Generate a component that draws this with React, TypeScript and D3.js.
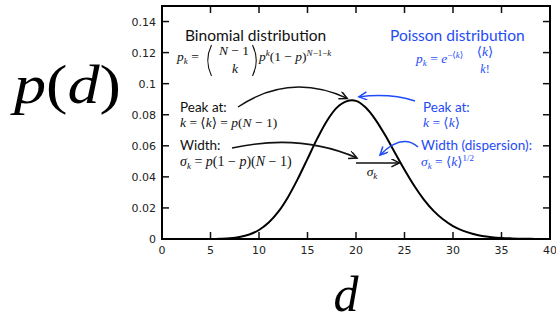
import React from 'react';
import * as d3 from 'd3';

// values, d = 0..40
const degrees = d3.range(0, 41);
const probabilities = [
  0, 0, 0, 0, 0, 0.00005, 0.0002, 0.0005, 0.0013, 0.0029,
  0.0058, 0.0106, 0.0176, 0.0271, 0.0387, 0.0516, 0.0646, 0.0760, 0.0844, 0.0886,
  0.0889, 0.0846, 0.0769, 0.0669, 0.0557, 0.0446, 0.0343, 0.0254, 0.0181, 0.0125,
  0.0083, 0.0054, 0.0034, 0.0020, 0.0012, 0.0007, 0.0004, 0.0002, 0.0001, 0.00005,
  0,
];
const xTicks = [0, 5, 10, 15, 20, 25, 30, 35, 40];
const yTicks = [0, 0.02, 0.04, 0.06, 0.08, 0.1, 0.12, 0.14];
const yTickLabels = ['0', '0.02', '0.04', '0.06', '0.08', '0.1', '0.12', '0.14'];

const BLUE = '#1f4cf5';
const INK = '#111';
const SANS = 'Lato, "Open Sans", sans-serif';
const SERIF = '"Liberation Serif", "DejaVu Serif", serif';
const TICK_FONT = '"DejaVu Sans", sans-serif';

// thin tall bracket for the binomial coefficient
function paren(cx: number, y0: number, y1: number, dir: number) {
  const bow = 5 * dir;
  return `M${cx + bow / 2},${y0} Q${cx - bow},${(y0 + y1) / 2} ${cx + bow / 2},${y1}`;
}

export default function App() {
  const left = 162, right = 550, top = 6, bottom = 239;
  const x = d3.scaleLinear().domain([0, 40]).range([left, right]);
  const y = d3.scaleLinear().domain([0, 0.15]).range([bottom, top]);

  const line = d3.line<number>()
    .x((_, i) => x(degrees[i]))
    .y(d => y(d))
    .curve(d3.curveCatmullRom.alpha(0.5));

  const tickLen = 7;
  const it = { fontFamily: SERIF, fontStyle: 'italic' } as const;
  const m = 13.5; // math size
  const s = 9; // script size

  return (
    <svg width={556} height={321} style={{ position: 'absolute', left: 0, top: 0, background: '#fff' }}>
      <defs>
        <marker id="headK" markerUnits="userSpaceOnUse" markerWidth={12} markerHeight={10}
          refX={9} refY={4} orient="auto">
          <path d="M1,0 L9,4 L1,8" fill="none" stroke={INK} strokeWidth={1.5} />
        </marker>
        <marker id="headB" markerUnits="userSpaceOnUse" markerWidth={12} markerHeight={10}
          refX={9} refY={4} orient="auto">
          <path d="M1,0 L9,4 L1,8" fill="none" stroke={BLUE} strokeWidth={1.5} />
        </marker>
      </defs>

      {/* big axis titles */}
      <text x={14} y={103} fontSize={54} fontFamily={SERIF} fill="#000"
        textLength={107} lengthAdjust="spacingAndGlyphs">
        <tspan fontStyle="italic">p</tspan>
        <tspan>(</tspan>
        <tspan fontStyle="italic">d</tspan>
        <tspan>)</tspan>
      </text>
      <text x={346} y={311} fontSize={50} fontFamily={SERIF} fontStyle="italic" textAnchor="middle" fill="#000">d</text>

      {/* ticks */}
      {xTicks.map(t => (
        <g key={'x' + t}>
          <line x1={x(t)} x2={x(t)} y1={bottom} y2={bottom - tickLen} stroke={INK} strokeWidth={1.5} />
          <line x1={x(t)} x2={x(t)} y1={top} y2={top + tickLen} stroke={INK} strokeWidth={1.5} />
          <text x={x(t)} y={254} fontSize={11} fontFamily={TICK_FONT} textAnchor="middle" fill="#222">{t}</text>
        </g>
      ))}
      {yTicks.map((t, i) => (
        <g key={'y' + t}>
          <line x1={left} x2={left + tickLen} y1={y(t)} y2={y(t)} stroke={INK} strokeWidth={1.5} />
          <line x1={right} x2={right - tickLen} y1={y(t)} y2={y(t)} stroke={INK} strokeWidth={1.5} />
          <text x={156} y={y(t) + 4} fontSize={11} fontFamily={TICK_FONT} textAnchor="end" fill="#222">{yTickLabels[i]}</text>
        </g>
      ))}

      {/* curve */}
      <path d={line(probabilities) || ''} fill="none" stroke="#000" strokeWidth={2} />

      {/* frame */}
      <rect x={left} y={top} width={right - left} height={bottom - top} fill="none" stroke="#000" strokeWidth={2} />

      {/* Binomial block */}
      <text x={185} y={41} fontSize={15.5} fontFamily={SANS} fill={INK}>Binomial distribution</text>
      <text x={177} y={61} fontSize={m} {...it} fill={INK}>
        p<tspan fontSize={s} dy={3}>k</tspan><tspan dy={-3} fontStyle="normal"> = </tspan>
      </text>
      <path d={paren(209, 45, 76, 1)} fill="none" stroke={INK} strokeWidth={1.1} />
      <text x={234} y={55} fontSize={m} {...it} textAnchor="middle" fill={INK}>
        N<tspan fontStyle="normal"> − 1</tspan>
      </text>
      <text x={235} y={73} fontSize={m} {...it} textAnchor="middle" fill={INK}>k</text>
      <path d={paren(255, 45, 76, -1)} fill="none" stroke={INK} strokeWidth={1.1} />
      <text x={259} y={61} fontSize={m} {...it} fill={INK}>
        p<tspan fontSize={s} dy={-5}>k</tspan>
        <tspan dy={5} fontStyle="normal">(1 − </tspan>p<tspan fontStyle="normal">)</tspan>
        <tspan fontSize={s} dy={-5}>N</tspan><tspan fontSize={s} fontStyle="normal">−1−</tspan><tspan fontSize={s}>k</tspan>
      </text>

      <text x={180} y={112} fontSize={13.5} fontFamily={SANS} fill={INK}>Peak at:</text>
      <text x={180} y={127} fontSize={m} {...it} fill={INK}>
        k<tspan fontStyle="normal"> = ⟨</tspan>k<tspan fontStyle="normal">⟩ = </tspan>p<tspan fontStyle="normal">(</tspan>N<tspan fontStyle="normal"> − 1)</tspan>
      </text>
      <text x={180} y={150} fontSize={13.5} fontFamily={SANS} fill={INK}>Width:</text>
      <text x={180} y={166} fontSize={14} {...it} fill={INK}>
        σ<tspan fontSize={s} dy={3}>k</tspan><tspan dy={-3} fontStyle="normal"> = </tspan>p<tspan fontStyle="normal">(1 − </tspan>p<tspan fontStyle="normal">)(</tspan>N<tspan fontStyle="normal"> − 1)</tspan>
      </text>

      {/* Poisson block */}
      <text x={390} y={41} fontSize={15.5} fontFamily={SANS} fill={BLUE}>Poisson distribution</text>
      <text x={416} y={63} fontSize={m} {...it} fill={BLUE}>
        p<tspan fontSize={s} dy={3}>k</tspan><tspan dy={-3} fontStyle="normal"> = </tspan>e
        <tspan fontSize={s} dy={-5} fontStyle="normal">−⟨</tspan><tspan fontSize={s}>k</tspan><tspan fontSize={s} fontStyle="normal">⟩</tspan>
      </text>
      <text x={485} y={56} fontSize={m} {...it} textAnchor="middle" fill={BLUE}>
        <tspan fontStyle="normal">⟨</tspan>k<tspan fontStyle="normal">⟩</tspan>
      </text>
      <text x={485} y={73} fontSize={12} {...it} textAnchor="middle" fill={BLUE}>
        k<tspan fontStyle="normal">!</tspan>
      </text>

      <text x={423} y={112} fontSize={13.5} fontFamily={SANS} fill={BLUE}>Peak at:</text>
      <text x={423} y={127} fontSize={m} {...it} fill={BLUE}>
        k<tspan fontStyle="normal"> = ⟨</tspan>k<tspan fontStyle="normal">⟩</tspan>
      </text>
      <text x={421} y={150} fontSize={13.5} fontFamily={SANS} fill={BLUE}>Width (dispersion):</text>
      <text x={421} y={166} fontSize={m} {...it} fill={BLUE}>
        σ<tspan fontSize={s} dy={3}>k</tspan><tspan dy={-3} fontStyle="normal"> = ⟨</tspan>k<tspan fontStyle="normal">⟩</tspan>
        <tspan fontSize={s} dy={-5} fontStyle="normal">1/2</tspan>
      </text>

      {/* annotation arrows */}
      <path d={`M238,107 Q290,72 ${x(19.1)},${y(0.0905)}`} fill="none" stroke={INK} strokeWidth={1.5} markerEnd="url(#headK)" />
      <path d={`M415,101 Q390,93 ${x(20.3)},${y(0.0915)}`} fill="none" stroke={BLUE} strokeWidth={1.5} markerEnd="url(#headB)" />
      <path d={`M232,148 Q300,133 357,158`} fill="none" stroke={INK} strokeWidth={1.5} markerEnd="url(#headK)" />
      <path d={`M418,147 Q402,133 380,155`} fill="none" stroke={BLUE} strokeWidth={1.5} markerEnd="url(#headB)" />
      <path d={`M${x(20)},${y(0.049)} L${x(24.47)},${y(0.049)}`} fill="none" stroke={INK} strokeWidth={1.5} markerEnd="url(#headK)" />
      <text x={372} y={176} fontSize={m} {...it} textAnchor="middle" fill={INK}>
        σ<tspan fontSize={s} dy={3}>k</tspan>
      </text>
    </svg>
  );
}
